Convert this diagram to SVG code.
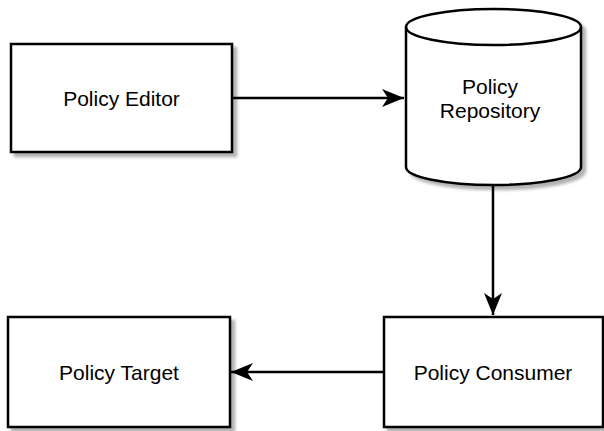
<svg xmlns="http://www.w3.org/2000/svg" width="604" height="431" viewBox="0 0 604 431">
  <defs>
    <filter id="shadow" x="-10%" y="-10%" width="125%" height="125%">
      <feGaussianBlur in="SourceAlpha" stdDeviation="1.5" result="b"/>
      <feOffset in="b" dx="4" dy="4" result="o"/>
      <feComponentTransfer in="o" result="s"><feFuncA type="linear" slope="0.3"/></feComponentTransfer>
      <feMerge><feMergeNode in="s"/><feMergeNode in="SourceGraphic"/></feMerge>
    </filter>
    <marker id="arrow" viewBox="-23 -10 24 20" refX="0" refY="0" markerWidth="24" markerHeight="20" markerUnits="userSpaceOnUse" orient="auto">
      <path d="M0,0 L-22,-9 L-16,0 L-22,9 Z" fill="#000"/>
    </marker>
  </defs>
  <style>
    .box { fill: #fff; stroke: #000; stroke-width: 2.5; }
    .lbl { font-family: "Liberation Sans", Arial, sans-serif; font-size: 21px; fill: #000; text-anchor: middle; }
    .edge { fill: none; stroke: #000; stroke-width: 2.5; }
  </style>
  <g id="policy-editor">
    <rect class="box" x="11" y="44" width="221" height="108" filter="url(#shadow)"/>
    <text class="lbl" x="121.5" y="105.5">Policy Editor</text>
  </g>
  <g id="policy-repository">
    <path class="box" d="M406,27 A87.5,18 0 0 1 581,27 L581,167 A87.5,18 0 0 1 406,167 Z" filter="url(#shadow)"/>
    <path class="edge" d="M406,27 A87.5,18 0 0 0 581,27"/>
    <text class="lbl" x="490" y="94">Policy</text>
    <text class="lbl" x="490" y="118">Repository</text>
  </g>
  <g id="policy-consumer">
    <rect class="box" x="384" y="317" width="219" height="110" filter="url(#shadow)"/>
    <text class="lbl" x="493" y="380">Policy Consumer</text>
  </g>
  <g id="policy-target">
    <rect class="box" x="8" y="317" width="222" height="110" filter="url(#shadow)"/>
    <text class="lbl" x="119" y="380">Policy Target</text>
  </g>
  <g id="connectors">
    <path class="edge" d="M232,98 L404,98" marker-end="url(#arrow)"/>
    <path class="edge" d="M493,185 L493,315" marker-end="url(#arrow)"/>
    <path class="edge" d="M384,372 L231,372" marker-end="url(#arrow)"/>
  </g>
</svg>
